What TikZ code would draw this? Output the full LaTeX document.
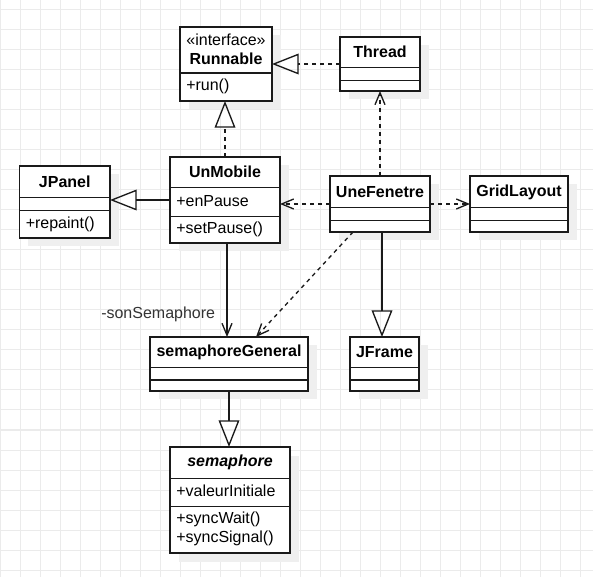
\documentclass[tikz,border=0pt]{standalone}
\usepackage{fontspec}
\setmainfont{Liberation Sans}
\usetikzlibrary{arrows.meta,calc}
\definecolor{gridc}{HTML}{EBEBEB}
\definecolor{shadowc}{HTML}{EFEFEF}
\definecolor{linec}{HTML}{1A1A1A}
\newcommand{\umlfont}{\fontsize{12}{14}\selectfont}
\tikzset{
  cls/.style={draw=linec, line width=1pt, fill=white, inner sep=0pt, outer sep=0pt},
  title/.style={font=\umlfont\bfseries, inner sep=0pt, anchor=center},
  member/.style={font=\umlfont, inner sep=0pt, anchor=west},
  divider/.style={draw=linec, line width=1pt},
  gen/.style={draw=linec, line width=1pt, -{Triangle[open,length=20pt,width=15.5pt]}},
  real/.style={gen, dash pattern=on 3pt off 3pt},
  dep/.style={draw=linec, line width=1pt, dash pattern=on 3pt off 3pt, -{Straight Barb[length=9pt,width=7.5pt]}},
  assoc/.style={draw=linec, line width=1pt, -{Straight Barb[length=9pt,width=7.5pt]}},
}
\newcommand{\mkclass}[5]{%
  \fill[shadowc] ({#2+8.5},{#3+8.5}) rectangle ({#4+8.5},{#5+8.5});
  \node[cls, minimum width={(#4-#2)*0.75pt}, minimum height={(#5-#3)*0.75pt}] (#1) at ({(#2+#4)/2},{(#3+#5)/2}) {};
}
\newcommand{\mkdiv}[3]{\draw[divider] ({#1},{#3}) -- ({#2},{#3});}
\begin{document}
\begin{tikzpicture}[x=0.75pt,y=-0.75pt]
\useasboundingbox (0,0) rectangle (593,577);
\fill[white] (0,0) rectangle (593,577);
\foreach \gx in {0,20,...,580} {\draw[gridc, line width=0.75pt] (\gx,0) -- (\gx,577);}
\foreach \gy in {10,30,...,570} {\draw[gridc, line width=0.75pt] (0,\gy) -- (593,\gy);}

% Runnable
\mkclass{runnable}{180}{27}{272}{101}
\mkdiv{180}{272}{73}
\node[member, anchor=center] (runnable-s) at (226,40) {«interface»};
\node[title] (runnable-t) at (226,58.5) {Runnable};
\node[member] (runnable-m) at (186,86.5) {+run()};

% Thread
\mkclass{thread}{340}{37}{420}{91}
\mkdiv{340}{420}{67.7}
\mkdiv{340}{420}{80.3}
\node[title] (thread-t) at (380,52) {Thread};

% JPanel
\mkclass{jpanel}{19.5}{166}{110}{238}
\mkdiv{19.5}{110}{197.7}
\mkdiv{19.5}{110}{210.7}
\node[title] (jpanel-t) at (64.75,182) {JPanel};
\node[member] (jpanel-m) at (25.5,224) {+repaint()};

% UnMobile
\mkclass{unmobile}{170}{157}{280}{243}
\mkdiv{170}{280}{187.3}
\mkdiv{170}{280}{216.7}
\node[title] (unmobile-t) at (225,172) {UnMobile};
\node[member] (unmobile-a) at (176,201) {+enPause};
\node[member] (unmobile-m) at (176,229.5) {+setPause()};

% UneFenetre
\mkclass{unefenetre}{330}{176}{430}{232}
\mkdiv{330}{430}{207.7}
\mkdiv{330}{430}{220.7}
\node[title] (unefenetre-t) at (380,192) {UneFenetre};

% GridLayout
\mkclass{gridlayout}{470}{176}{568}{232}
\mkdiv{470}{568}{207.7}
\mkdiv{470}{568}{220.7}
\node[title] (gridlayout-t) at (519,192) {GridLayout};

% semaphoreGeneral
\mkclass{semgen}{150}{337}{308}{391}
\mkdiv{150}{308}{367.7}
\mkdiv{150}{308}{380}
\node[title] (semgen-t) at (229,352) {semaphoreGeneral};

% JFrame
\mkclass{jframe}{350}{337}{419}{391}
\mkdiv{350}{419}{367.7}
\mkdiv{350}{419}{380}
\node[title] (jframe-t) at (384.5,352) {JFrame};

% semaphore
\mkclass{semaphore}{170}{447}{290}{553}
\mkdiv{170}{290}{478.3}
\mkdiv{170}{290}{506.7}
\node[title, font=\umlfont\bfseries\itshape] (semaphore-t) at (230,462) {semaphore};
\node[member] (semaphore-a) at (176,491) {+valeurInitiale};
\node[member] (semaphore-m1) at (176,519) {+syncWait()};
\node[member] (semaphore-m2) at (176,538.5) {+syncSignal()};

% connectors
\draw[real] (thread.west) -- (runnable.east);
\draw[real] (unmobile.north) -- (unmobile.north |- runnable.south);
\draw[gen] (unmobile.west) -- (unmobile.west -| jpanel.east);
\draw[dep] (unefenetre.west) -- (unefenetre.west -| unmobile.east);
\draw[dep] (unefenetre.east) -- (gridlayout.west);
\draw[dep] (unefenetre.north) -- (unefenetre.north |- thread.south);
\coordinate (ufj) at ($(unefenetre.south)+(2,0)$);
\draw[gen] (ufj) -- (ufj |- jframe.north);
\coordinate (ums) at ($(unmobile.south)+(2,0)$);
\draw[assoc] (ums) -- (ums |- semgen.north);
\coordinate (ufs) at ($(unefenetre.south west)+(23,0)$);
\coordinate (sgd) at ($(semgen.north west)+(106,0)$);
\draw[dep] (ufs) -- (sgd);
\draw[gen] (semgen.south) -- (semgen.south |- semaphore.north);
\node[member, text=black!80] (sonsem) at (101,314) {-sonSemaphore};
\end{tikzpicture}
\end{document}
